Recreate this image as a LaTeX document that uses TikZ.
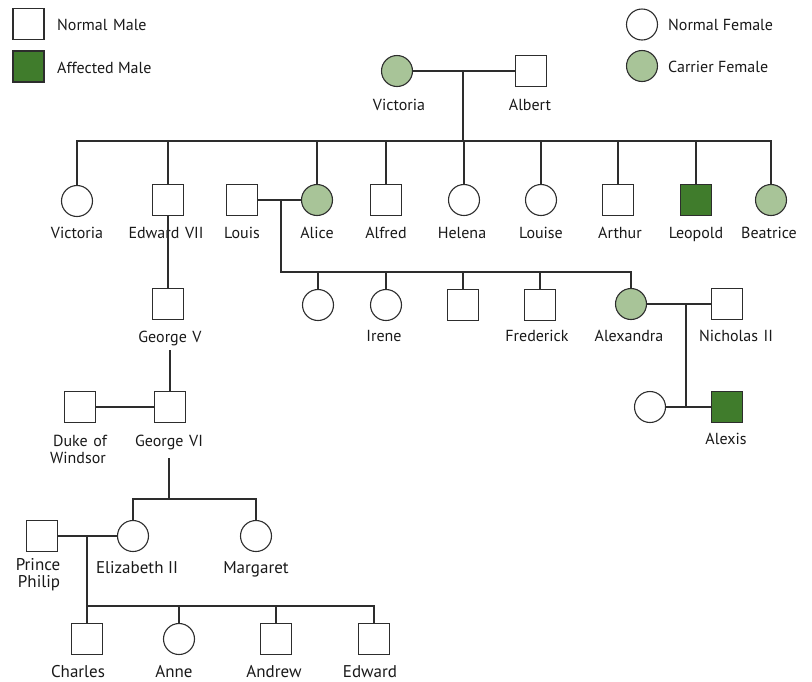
\documentclass[tikz,border=0pt]{standalone}
\usepackage{fontspec}
\setmainfont{PT Sans}
\definecolor{affected}{RGB}{64,124,44}
\definecolor{carrier}{RGB}{168,196,152}
\definecolor{linec}{RGB}{45,45,45}
\tikzset{
  male/.style={draw=linec, line width=1.1pt, rectangle, minimum size=31pt, inner sep=0pt, fill=white},
  female/.style={draw=linec, line width=1.1pt, circle, minimum size=31pt, inner sep=0pt, fill=white},
  aff/.style={fill=affected},
  car/.style={fill=carrier},
  lab/.style={anchor=base, inner sep=0pt, font=\fontsize{16}{16}\selectfont, text=black!90},
  labL/.style={lab, font=\fontsize{17}{17}\selectfont},
  leg/.style={anchor=base west, inner sep=0pt, font=\fontsize{16}{16}\selectfont, text=black!90},
  conn/.style={draw=linec, line width=1.1pt},
}
\newcommand{\gap}{\hspace{0.35em}}
\begin{document}
\begin{tikzpicture}[x=1pt,y=-1pt]
\useasboundingbox (0,0) rectangle (812,681);
% legend
\node[male] (legNM) at (28.5,24) {};
\node[leg] (legNMt) at (57,30) {Normal\gap Male};
\node[male,aff] (legAM) at (28.5,66.5) {};
\node[leg] (legAMt) at (57,73) {Affected Male};
\node[female] (legNF) at (642,24.5) {};
\node[leg] (legNFt) at (668,30) {Normal Female};
\node[female,car] (legCF) at (642,66) {};
\node[leg] (legCFt) at (668,72) {Carrier Female};

% generation I
\node[female,car] (victoria) at (397,71) {};
\node[male] (albert) at (531,71) {};
\node[lab] (lVictoria) at (399,110) {Victoria};
\node[lab] (lAlbert) at (530,110) {Albert};
\coordinate (vaM) at (463,71);
\coordinate (vaS) at (463,141);

% generation II
\node[female] (cvictoria) at (77,201) {};
\node[male] (edward7) at (168,200) {};
\node[male] (louis) at (242,200) {};
\node[female,car] (alice) at (317,200) {};
\node[male] (alfred) at (386,200) {};
\node[female] (helena) at (464,200) {};
\node[female] (louise) at (541,200) {};
\node[male] (arthur) at (618,200) {};
\node[male,aff] (leopold) at (696,200) {};
\node[female,car] (beatrice) at (771,200) {};
\node[lab] (lcVictoria) at (77,238) {Victoria};
\node[lab] (lEdward7) at (166,238) {Edward\gap VII};
\node[lab] (lLouis) at (242,238) {Louis};
\node[lab] (lAlice) at (317,238) {Alice};
\node[lab] (lAlfred) at (386,238) {Alfred};
\node[lab] (lHelena) at (462,238) {Helena};
\node[lab] (lLouise) at (541,238) {Louise};
\node[lab] (lArthur) at (620,238) {Arthur};
\node[lab] (lLeopold) at (696,238) {Leopold};
\node[lab] (lBeatrice) at (769,238) {Beatrice};

\draw[conn] (victoria.east) -- (albert.west);
\draw[conn] (vaM) -- (vaS);
\draw[conn] (cvictoria.north) |- (vaS) -| (beatrice.north);
\foreach \n in {edward7,alice,alfred,helena,louise,arthur,leopold}
  \draw[conn] (\n.north) -- (\n.north |- vaS);

% generation III (Alice)
\coordinate (laM) at (281,200);
\coordinate (laS) at (281,272);
\node[female] (c3a) at (318,305) {};
\node[female] (irene) at (386,305) {};
\node[male] (c3b) at (463,305) {};
\node[male] (frederick) at (540,305) {};
\node[female,car] (alexandra) at (631,304) {};
\node[male] (nicholas) at (727,304) {};
\node[lab] (lIrene) at (384,341) {Irene};
\node[lab] (lFrederick) at (537,341) {Frederick};
\node[lab] (lAlexandra) at (629,341) {Alexandra};
\node[lab] (lNicholas) at (736,341) {Nicholas\gap II};
\draw[conn] (louis.east) -- (alice.west);
\draw[conn] (laM) -- (laS) -| (alexandra.north);
\foreach \n in {c3a,irene,c3b,frederick}
  \draw[conn] (\n.north) -- (\n.north |- laS);

% Romanov children
\coordinate (anM) at (686,304);
\node[female] (c4) at (650,407) {};
\node[male,aff] (alexis) at (727,407) {};
\node[lab] (lAlexis) at (726,444) {Alexis};
\draw[conn] (alexandra.east) -- (nicholas.west);
\draw[conn] (c4.east) -- (alexis.west);
\draw[conn] (anM) -- (anM |- c4.east);

% Edward VII line
\node[male] (georgeV) at (168,304) {};
\node[lab] (lGeorgeV) at (170,342) {George\gap V};
\draw[conn] (edward7.south) -- (georgeV.north);
\node[male] (georgeVI) at (170,407) {};
\node[male] (duke) at (80,407) {};
\node[lab] (lDuke1) at (80,446) {Duke\gap of};
\node[lab] (lDuke2) at (78,463) {Windsor};
\node[lab] (lGeorgeVI) at (169,446) {George\gap VI};
\coordinate (gvL) at (170,350);
\draw[conn] (gvL) -- (georgeVI.north);
\draw[conn] (duke.east) -- (georgeVI.west);

% George VI children
\coordinate (g6a) at (169,458);
\coordinate (g6s) at (169,499);
\node[female] (elizabeth) at (133,536) {};
\node[female] (margaret) at (256,536) {};
\node[male] (philip) at (42,536) {};
\node[labL] (lPhilip1) at (38,570) {Prince};
\node[labL] (lPhilip2) at (39,587) {Philip};
\node[labL] (lElizabeth) at (137,573) {Elizabeth II};
\node[labL] (lMargaret) at (256,573) {Margaret};
\draw[conn] (g6a) -- (g6s);
\draw[conn] (elizabeth.north) |- (g6s) -| (margaret.north);
\draw[conn] (philip.east) -- (elizabeth.west);

% Elizabeth II children
\coordinate (peM) at (87,536);
\coordinate (peS) at (87,606);
\coordinate (peE) at (374,606);
\node[male] (charles) at (87,639) {};
\node[female] (anne) at (179,639) {};
\node[male] (andrew) at (276,639) {};
\node[male] (edwardB) at (374,639) {};
\node[labL] (lCharles) at (78,677) {Charles};
\node[labL] (lAnne) at (174,677) {Anne};
\node[labL] (lAndrew) at (274,677) {Andrew};
\node[labL] (lEdwardB) at (370,677) {Edward};
\draw[conn] (peM) -- (charles.north);
\draw[conn] (peS) -- (peE) -- (edwardB.north);
\draw[conn] (anne.north) -- (anne.north |- peS);
\draw[conn] (andrew.north) -- (andrew.north |- peS);
\end{tikzpicture}
\end{document}
